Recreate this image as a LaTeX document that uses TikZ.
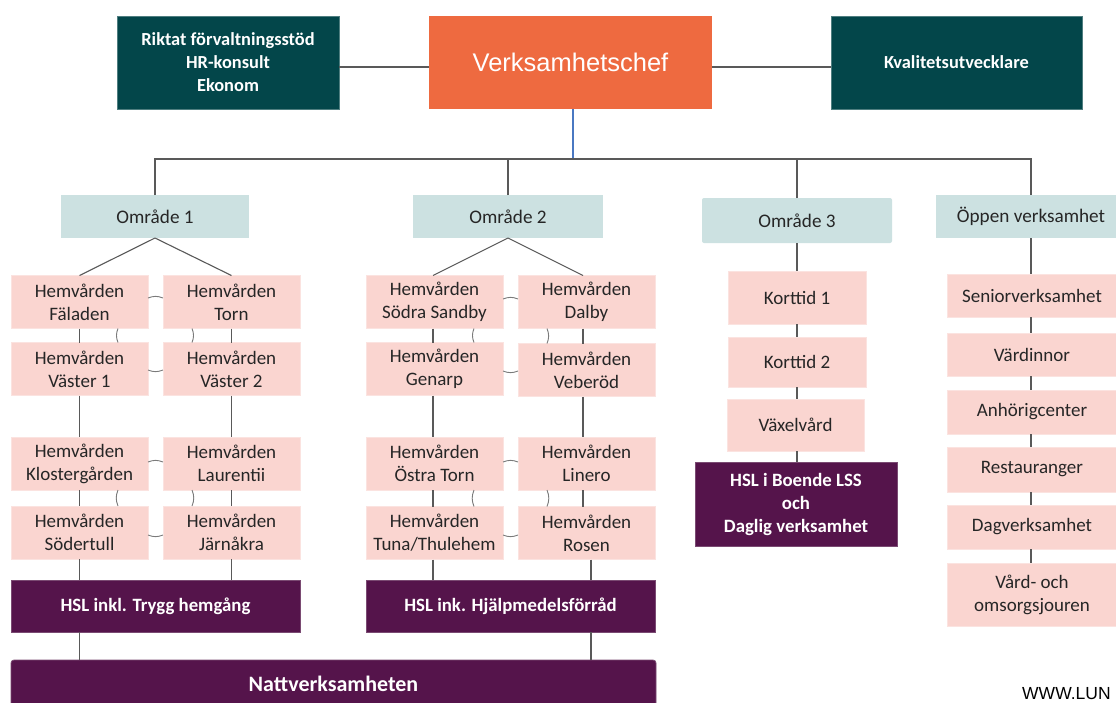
\documentclass[tikz,border=0pt]{standalone}
\usepackage{fontspec}
\setmainfont{Carlito}
\newfontfamily\arialf{Liberation Sans}
\definecolor{tealc}{HTML}{03464A}
\definecolor{orangec}{HTML}{EE6A40}
\definecolor{areac}{HTML}{CCE1E1}
\definecolor{pinkc}{HTML}{FAD5D0}
\definecolor{pinkb}{HTML}{FBE3E0}
\definecolor{purpc}{HTML}{55144B}
\definecolor{purpb}{HTML}{7A4A72}
\definecolor{txtc}{HTML}{262626}
\definecolor{linec}{HTML}{595959}
\definecolor{bluec}{HTML}{4A78C2}
\tikzset{
  box/.style={inner sep=0pt, outer sep=0pt, align=center, anchor=center},
  pinkbox/.style={box, fill=pinkc, draw=pinkb, line width=0.8pt, text=txtc,
    minimum width=137pt, minimum height=53pt, font=\fontsize{19}{23}\selectfont},
  openbox/.style={box, fill=pinkc, draw=pinkb, line width=0.8pt, text=txtc,
    minimum width=170pt, font=\fontsize{19}{23}\selectfont},
  areabox/.style={box, fill=areac, text=txtc, minimum height=43pt,
    font=\fontsize{19.2}{23}\selectfont},
  purplebox/.style={box, fill=purpc, draw=purpb, line width=0.8pt, text=white,
    font=\bfseries\fontsize{18.8}{23}\selectfont},
  tealbox/.style={box, fill=tealc, draw=tealc!70!white, line width=0.8pt, text=white,
    minimum height=93pt, font=\bfseries\fontsize{18.4}{23}\selectfont},
  conn/.style={draw=linec, line width=1.1pt},
  arcc/.style={draw=linec!80!white, line width=0.9pt},
}
\begin{document}
\begin{tikzpicture}[x=1pt, y=-1pt]
\useasboundingbox (0,0) rectangle (1116,702);
\fill[white] (0,0) rectangle (1116,702);

% top row
\node[tealbox, minimum width=222pt] (stod) at (228,62.5) {Riktat förvaltningsstöd\\HR-konsult\\Ekonom};
\node[box, fill=orangec, minimum width=283pt, minimum height=93pt, text=white,
  font=\arialf\fontsize{25.5}{30}\selectfont] (chef) at (570.5,62.5) {Verksamhetschef};
\node[tealbox, minimum width=251pt] (kval) at (956.5,62.5) {Kvalitetsutvecklare};

\draw[conn] ([yshift=-4.5pt]stod.east) -- ([yshift=-4.5pt]chef.west);
\draw[conn] ([yshift=-4.5pt]chef.east) -- ([yshift=-4.5pt]kval.west);

% areas
\node[areabox, minimum width=188pt] (o1) at (155,216.5) {Område 1};
\node[areabox, minimum width=190pt] (o2) at (508,216.5) {Område 2};
\node[areabox, minimum width=190pt, minimum height=45pt, rounded corners=2pt] (o3) at (797,220.5) {Område 3};
\node[areabox, minimum width=190pt] (oe) at (1031,216.5) {Öppen verksamhet};

\coordinate (bus) at (0,159);
\draw[draw=bluec, line width=1.1pt] ([xshift=2.5pt]chef.south) -- ([xshift=2.5pt]chef.south |- bus);
\draw[conn] (o1.north) |- (oe.north |- bus) -- (oe.north);
\draw[conn] (o2.north) -- (o2.north |- bus);
\draw[conn] (o3.north) -- (o3.north |- bus);

% Omrade 1
\node[pinkbox] (fal) at (79.5,302) {Hemvården\\Fäladen};
\node[pinkbox] (torn) at (231.5,302) {Hemvården\\Torn};
\node[pinkbox] (vas1) at (79.5,369) {Hemvården\\Väster 1};
\node[pinkbox] (vas2) at (231.5,369) {Hemvården\\Väster 2};
\node[pinkbox] (klo) at (79.5,463.5) {Hemvården\\Klostergården};
\node[pinkbox] (lau) at (231.5,463.5) {Hemvården\\Laurentii};
\node[pinkbox] (sod) at (79.5,532.5) {Hemvården\\Södertull};
\node[pinkbox] (jar) at (231.5,532.5) {Hemvården\\Järnåkra};
\node[purplebox, minimum width=289pt, minimum height=52pt] (hsl1) at (155.5,606) {HSL inkl. Trygg hemgång};

\draw[conn] (o1.south) -- (fal.north);
\draw[conn] (o1.south) -- (torn.north);
\draw[conn] (fal.south) -- (vas1.north);
\draw[conn] (torn.south) -- (vas2.north);
\draw[conn] (vas1.south) -- (klo.north);
\draw[conn] (vas2.south) -- (lau.north);
\draw[conn] (klo.south) -- (sod.north);
\draw[conn] (lau.south) -- (jar.north);
\draw[conn] (sod.south) -- (sod.south |- hsl1.north);
\draw[conn] (jar.south) -- (jar.south |- hsl1.north);

\draw[arcc] ([yshift=4pt]fal.east) to[bend left=22] ([yshift=4pt]torn.west);
\draw[arcc] ([yshift=-1pt]vas1.east) to[bend right=22] ([yshift=-1pt]vas2.west);
\draw[arcc] ([xshift=38.5pt]fal.south) to[bend right=22] ([xshift=38.5pt]vas1.north);
\draw[arcc] ([xshift=-39.5pt]torn.south) to[bend left=22] ([xshift=-39.5pt]vas2.north);
\draw[arcc] ([yshift=1.5pt]klo.east) to[bend left=22] ([yshift=1.5pt]lau.west);
\draw[arcc] ([yshift=-2.5pt]sod.east) to[bend right=22] ([yshift=-2.5pt]jar.west);
\draw[arcc] ([xshift=38.5pt]klo.south) to[bend right=22] ([xshift=38.5pt]sod.north);
\draw[arcc] ([xshift=-39.5pt]lau.south) to[bend left=22] ([xshift=-39.5pt]jar.north);

% Omrade 2
\node[pinkbox] (ssa) at (434.5,302) {Hemvården\\Södra Sandby};
\node[pinkbox] (dal) at (586.5,302) {Hemvården\\Dalby};
\node[pinkbox] (gen) at (434.5,369) {Hemvården\\Genarp};
\node[pinkbox] (veb) at (586.5,370) {Hemvården\\Veberöd};
\node[pinkbox] (ost) at (434.5,463.5) {Hemvården\\Östra Torn};
\node[pinkbox] (lin) at (586.5,463.5) {Hemvården\\Linero};
\node[pinkbox] (tun) at (434.5,533) {Hemvården\\Tuna/Thulehem};
\node[pinkbox] (ros) at (586.5,533) {Hemvården\\Rosen};
\node[purplebox, minimum width=289pt, minimum height=52pt] (hsl2) at (510.5,606) {HSL ink. Hjälpmedelsförråd};

\draw[conn] (o2.south) -- ([xshift=-1.5pt]ssa.north);
\draw[conn] (o2.south) -- ([xshift=-3.5pt]dal.north);
\draw[conn] ([xshift=-1.5pt]ssa.south) -- ([xshift=-1.5pt]gen.north);
\draw[conn] ([xshift=-3.5pt]dal.south) -- ([xshift=-3.5pt]veb.north);
\draw[conn] ([xshift=-1.5pt]gen.south) -- ([xshift=-1.5pt]ost.north);
\draw[conn] ([xshift=-3.5pt]veb.south) -- ([xshift=-3.5pt]lin.north);
\draw[conn] ([xshift=-1.5pt]ost.south) -- ([xshift=-1.5pt]tun.north);
\draw[conn] ([xshift=-3.5pt]lin.south) -- ([xshift=-3.5pt]ros.north);
\draw[conn] ([xshift=-1.5pt]tun.south) -- ([xshift=-1.5pt]tun.south |- hsl2.north);
\draw[conn] ([xshift=4.5pt]ros.south) -- ([xshift=4.5pt]ros.south |- hsl2.north);

\draw[arcc] ([yshift=3pt]ssa.east) to[bend left=22] ([yshift=3pt]dal.west);
\draw[arcc] ([yshift=-2pt]gen.east) to[bend right=22] ([yshift=-2pt]gen.east -| veb.west);
\draw[arcc] ([xshift=39.5pt]ssa.south) to[bend right=22] ([xshift=39.5pt]gen.north);
\draw[arcc] ([xshift=-39.5pt]dal.south) to[bend left=22] ([xshift=-39.5pt]veb.north);
\draw[arcc] ([yshift=1.5pt]ost.east) to[bend left=22] ([yshift=1.5pt]lin.west);
\draw[arcc] ([yshift=-2pt]tun.east) to[bend right=22] ([yshift=-2pt]ros.west);
\draw[arcc] ([xshift=39.5pt]ost.south) to[bend right=22] ([xshift=39.5pt]tun.north);
\draw[arcc] ([xshift=-39.5pt]lin.south) to[bend left=22] ([xshift=-39.5pt]ros.north);

% Natt
\node[purplebox, minimum width=645pt, minimum height=48pt, rounded corners=3pt,
  font=\bfseries\fontsize{22}{24}\selectfont] (natt) at (333.5,684) {Nattverksamheten};
\draw[conn] (hsl1.south -| sod.south) -- (sod.south |- natt.north);
\draw[conn] ([xshift=4.5pt]hsl2.south -| ros.south) -- ([xshift=4.5pt]ros.south |- natt.north);

% Omrade 3
\node[pinkbox, minimum width=138pt] (k1) at (797,297.5) {Korttid 1};
\node[pinkbox, minimum width=138pt, minimum height=50pt] (k2) at (797,362) {Korttid 2};
\node[pinkbox, minimum width=137pt, minimum height=52pt] (vx) at (795.5,425) {Växelvård};
\node[purplebox, minimum width=202pt, minimum height=84pt] (lss) at (796,504) {HSL i Boende LSS\\och\\Daglig verksamhet};
\draw[conn] (o3.south) -- (k1.north);
\draw[conn] (k1.south) -- (k2.north);
\draw[conn] (k2.south) -- (k2.south |- vx.north);
\draw[conn] (vx.south -| k2.south) -- (k2.south |- lss.north);

% Oppen verksamhet
\node[openbox, minimum height=43pt] (sen) at (1032,295.5) {Seniorverksamhet};
\node[openbox, minimum height=43pt] (var) at (1032,354.5) {Värdinnor};
\node[openbox, minimum height=44pt] (anh) at (1032,412) {Anhörigcenter};
\node[openbox, minimum height=45pt] (res) at (1032,469.5) {Restauranger};
\node[openbox, minimum height=44pt] (dag) at (1032,527) {Dagverksamhet};
\node[openbox, minimum height=63pt] (vard) at (1032,594.5) {Vård- och\\omsorgsjouren};
\draw[conn] (oe.south) -- (oe.south |- sen.north);
\draw[conn] (sen.south -| oe.south) -- (oe.south |- var.north);
\draw[conn] (var.south -| oe.south) -- (oe.south |- anh.north);
\draw[conn] (anh.south -| oe.south) -- (oe.south |- res.north);
\draw[conn] (res.south -| oe.south) -- (oe.south |- dag.north);
\draw[conn] (dag.south -| oe.south) -- (oe.south |- vard.north);

\node[inner sep=0pt, anchor=base west, text=black, font=\arialf\fontsize{17.5}{20}\selectfont] (www) at (1022,699) {WWW.LUN};
\end{tikzpicture}
\end{document}
